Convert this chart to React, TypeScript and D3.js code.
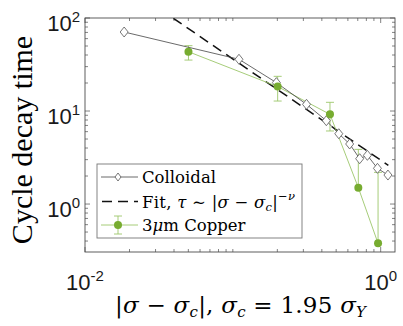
import React from "react";
import * as d3 from "d3";

// Colloidal data (diamonds)
const colloidalX = [0.0184, 0.11, 0.197, 0.315, 0.429, 0.521, 0.617, 0.721, 0.813, 0.951, 1.12];
const colloidalY = [70.7, 36, 20.2, 11.8, 7.87, 5.7, 4.42, 3.07, 3.34, 2.42, 2.05];

// 3um copper data (green dots + error bars)
const copperX = [0.0501, 0.201, 0.454, 0.706, 0.96];
const copperY = [43.4, 18.3, 9.21, 1.5, 0.378];
const copperHi = [50.4, 23.6, 12.4, 3.87, 2.19];
const copperLo: (number | null)[] = [35.3, 12.8, 6.1, null, null];

// power-law fit endpoints
const fitX = [0.0396, 1.127];
const fitY = [99.3, 2.6];

const xTickLabels = [
  { v: 0.01, exp: "-2" },
  { v: 1, exp: "0" },
];
const yTickLabels = [
  { v: 1, exp: "0" },
  { v: 10, exp: "1" },
  { v: 100, exp: "2" },
];
const legendLabels = ["Colloidal", "Fit", "3μm Copper"];

const W = 403;
const H = 326;
const margin = { top: 18, right: 8, bottom: 74, left: 85 };
const AXIS = "#4d4d4d";
const GREEN = "#77ac30";
const LIGHTGREEN = "#9cc66a";
const SERIF = "'Liberation Serif', 'Times New Roman', serif";
const MATH = "'DejaVu Serif', serif";
const SANS = "'Liberation Sans', Arial, sans-serif";

const x = d3.scaleLog().domain([0.01, 1.25]).range([margin.left, W - margin.right]);
const y = d3.scaleLog().domain([0.305, 100]).range([H - margin.bottom, margin.top]);

const minorTicks = (lo: number, hi: number) => {
  const out: number[] = [];
  for (let p = -3; p <= 3; p++) {
    for (let m = 1; m < 10; m++) {
      const v = m * Math.pow(10, p);
      if (v >= lo && v <= hi) out.push(v);
    }
  }
  return out;
};

const diamond = (cx: number, cy: number, w = 4, h = 5) =>
  `M${cx},${cy - h}L${cx + w},${cy}L${cx},${cy + h}L${cx - w},${cy}Z`;

export default function App() {
  const x0 = x.range()[0];
  const x1 = x.range()[1];
  const y0 = y.range()[0];
  const y1 = y.range()[1];

  const line = d3.line<[number, number]>()
    .x((d) => x(d[0]))
    .y((d) => y(d[1]));

  const colPts = colloidalX.map((v, i) => [v, colloidalY[i]] as [number, number]);
  const cuPts = copperX.map((v, i) => [v, copperY[i]] as [number, number]);
  const fitPts = fitX.map((v, i) => [v, fitY[i]] as [number, number]);

  const xMinor = minorTicks(0.01, 1.25);
  const yMinor = minorTicks(0.305, 100);

  const lgX = 97, lgY = 164, lgW = 205, lgH = 74;
  const rowY = [177, 201.5, 225];

  return (
    <svg width={W} height={H} style={{ position: "absolute", left: 0, top: 0, background: "#fff" }}>
      <defs>
        <clipPath id="plotclip">
          <rect x={x0} y={y1} width={x1 - x0} height={y0 - y1} />
        </clipPath>
      </defs>

      {/* ticks */}
      <g stroke={AXIS} strokeWidth={0.7}>
        {xMinor.map((v, i) => {
          const major = v === 0.01 || v === 1;
          const len = major ? 5 : 3;
          return (
            <g key={"xt" + i}>
              <line x1={x(v)} x2={x(v)} y1={y0} y2={y0 - len} />
              <line x1={x(v)} x2={x(v)} y1={y1} y2={y1 + len} />
            </g>
          );
        })}
        {yMinor.map((v, i) => {
          const major = v === 1 || v === 10 || v === 100;
          const len = major ? 5 : 3;
          return (
            <g key={"yt" + i}>
              <line x1={x0} x2={x0 + len} y1={y(v)} y2={y(v)} />
              <line x1={x1} x2={x1 - len} y1={y(v)} y2={y(v)} />
            </g>
          );
        })}
      </g>

      <g clipPath="url(#plotclip)">
        {/* fit */}
        <path d={line(fitPts) || ""} fill="none" stroke="#111" strokeWidth={1.5} strokeDasharray="10,6" />

        {/* copper */}
        <path d={line(cuPts) || ""} fill="none" stroke={LIGHTGREEN} strokeWidth={0.9} />
        {copperX.map((v, i) => {
          const cx = x(v);
          const top = y(copperHi[i]);
          const lo = copperLo[i];
          const bot = lo == null ? y(copperY[i]) : y(lo);
          return (
            <g key={"eb" + i} stroke={LIGHTGREEN} strokeWidth={0.9}>
              <line x1={cx} x2={cx} y1={top} y2={bot} />
              <line x1={cx - 4} x2={cx + 4} y1={top} y2={top} />
              {lo != null && <line x1={cx - 4} x2={cx + 4} y1={bot} y2={bot} />}
            </g>
          );
        })}

        {/* colloidal */}
        <path d={line(colPts) || ""} fill="none" stroke="#444" strokeWidth={0.8} />
        {colPts.map((d, i) => (
          <path key={"cd" + i} d={diamond(x(d[0]), y(d[1]))} fill="#fff" stroke="#555" strokeWidth={0.8} />
        ))}
        {cuPts.map((d, i) => (
          <circle key={"cc" + i} cx={x(d[0])} cy={y(d[1])} r={4} fill={GREEN} />
        ))}
      </g>

      {/* box */}
      <rect x={x0} y={y1} width={x1 - x0} height={y0 - y1} fill="none" stroke={AXIS} strokeWidth={0.9} />

      {/* tick labels */}
      <g fontFamily={SANS} fill="#1a1a1a">
        {xTickLabels.map((t) => (
          <text key={"xl" + t.v} x={x(t.v)} y={290} textAnchor="middle" fontSize={22}>
            10<tspan fontSize={15} dy={-9}>{t.exp}</tspan>
          </text>
        ))}
        {yTickLabels.map((t) => (
          <text key={"yl" + t.v} x={80} y={y(t.v) + 13} textAnchor="end" fontSize={22}>
            10<tspan fontSize={15} dy={-9}>{t.exp}</tspan>
          </text>
        ))}
      </g>

      {/* axis titles */}
      <text
        transform={`translate(32,${(y0 + y1) / 2 + 5}) rotate(-90)`}
        textAnchor="middle"
        fontFamily={SERIF}
        fontSize={30}
        fill="#000"
      >
        Cycle decay time
      </text>
      <text
        x={115}
        y={313}
        fontFamily={MATH}
        fontSize={23}
        fill="#000"
        textLength={251}
        lengthAdjust="spacing"
      >
        |<tspan fontStyle="italic">σ</tspan> − <tspan fontStyle="italic">σ</tspan>
        <tspan fontStyle="italic" fontSize={15} dy={4}>c</tspan>
        <tspan dy={-4}>|, </tspan>
        <tspan fontStyle="italic">σ</tspan>
        <tspan fontStyle="italic" fontSize={15} dy={4}>c</tspan>
        <tspan dy={-4}> = 1.95 </tspan>
        <tspan fontStyle="italic">σ</tspan>
        <tspan fontStyle="italic" fontSize={15} dy={4}>Y</tspan>
      </text>

      {/* legend */}
      <g>
        <rect x={lgX} y={lgY} width={lgW} height={lgH} fill="#fff" stroke="#777" strokeWidth={0.9} />
        <line x1={101} x2={138} y1={rowY[0]} y2={rowY[0]} stroke="#444" strokeWidth={0.8} />
        <path d={diamond(118, rowY[0], 3, 4)} fill="#fff" stroke="#555" strokeWidth={0.8} />
        <line x1={102} x2={138} y1={rowY[1]} y2={rowY[1]} stroke="#111" strokeWidth={1.5} strokeDasharray="10,6" />
        <line x1={101} x2={138} y1={rowY[2]} y2={rowY[2]} stroke={LIGHTGREEN} strokeWidth={0.9} />
        <line x1={118} x2={118} y1={rowY[2] - 9} y2={rowY[2] + 9} stroke={LIGHTGREEN} strokeWidth={0.9} />
        <line x1={114} x2={122} y1={rowY[2] - 9} y2={rowY[2] - 9} stroke={LIGHTGREEN} strokeWidth={0.9} />
        <line x1={114} x2={122} y1={rowY[2] + 9} y2={rowY[2] + 9} stroke={LIGHTGREEN} strokeWidth={0.9} />
        <circle cx={118} cy={rowY[2]} r={4} fill={GREEN} />
        <g fontFamily={MATH} fontSize={16.5} fill="#000">
          <text x={142} y={rowY[0] + 6}>{legendLabels[0]}</text>
          <text x={142} y={rowY[1] + 6} textLength={153} lengthAdjust="spacing">
            {legendLabels[1]}, <tspan fontStyle="italic">τ</tspan> ∼ |<tspan fontStyle="italic">σ</tspan> − <tspan fontStyle="italic">σ</tspan>
            <tspan fontStyle="italic" fontSize={11.5} dy={3}>c</tspan>
            <tspan dy={-3}>|</tspan>
            <tspan fontSize={11.5} dy={-8}>−</tspan>
            <tspan fontSize={11.5} fontStyle="italic">ν</tspan>
          </text>
          <text x={142} y={rowY[2] + 6}>
            3<tspan fontStyle="italic">μ</tspan>m Copper
          </text>
        </g>
      </g>
    </svg>
  );
}
